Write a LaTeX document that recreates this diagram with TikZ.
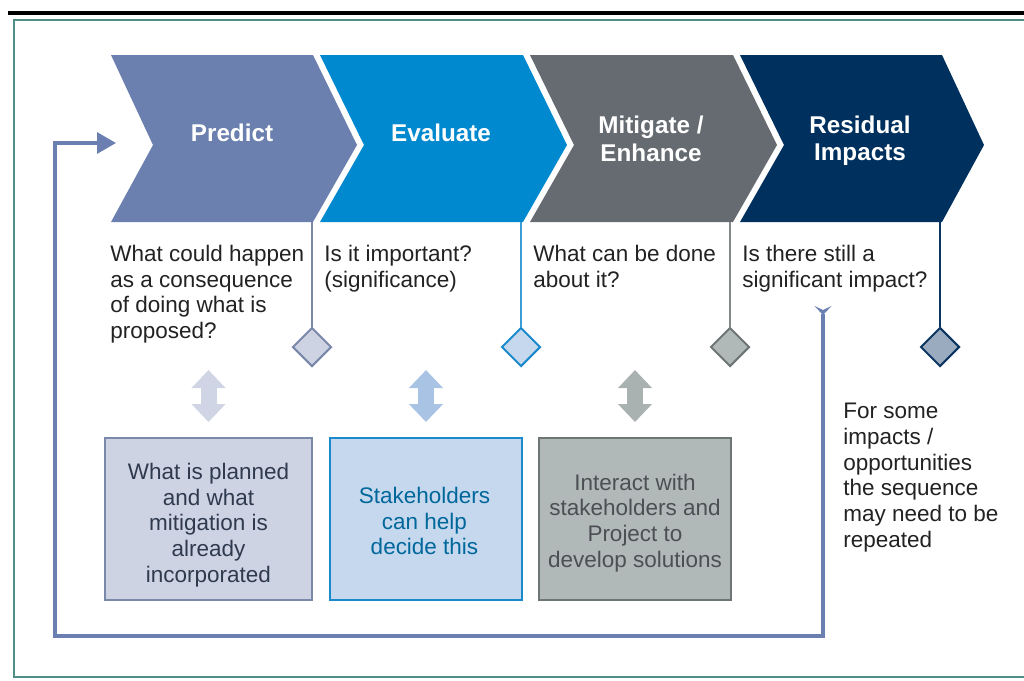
\documentclass[tikz,border=0pt]{standalone}
\usepackage{fontspec}
\setmainfont{Liberation Sans}
\usetikzlibrary{arrows.meta,shapes.geometric}

\definecolor{predictc}{HTML}{6B80AE}
\definecolor{evalc}{HTML}{0089CF}
\definecolor{mitic}{HTML}{656B70}
\definecolor{residc}{HTML}{00305E}
\definecolor{loopc}{HTML}{6B80B0}
\definecolor{framec}{HTML}{4F8F88}
\definecolor{qgray}{HTML}{222222}
% light tints
\definecolor{predictl}{HTML}{CDD3E3}
\definecolor{predictd}{HTML}{7A88AA}
\definecolor{evall}{HTML}{C5D8EE}
\definecolor{evald}{HTML}{1A8ACB}
\definecolor{mitil}{HTML}{B1B8B8}
\definecolor{mitid}{HTML}{6E7575}
\definecolor{residl}{HTML}{9AABBF}
\definecolor{residd}{HTML}{0C3661}
% double arrows
\definecolor{arrp}{HTML}{CFD5E4}
\definecolor{arre}{HTML}{A8C3E4}
\definecolor{arrm}{HTML}{AAB1B1}

\begin{document}
\begin{tikzpicture}[x=0.02cm, y=-0.02cm,
	lbl/.style={text=white, align=center, font=\fontsize{13.8}{15.6}\selectfont\bfseries},
	q/.style={anchor=north west, inner sep=0pt, align=left, text=qgray, font=\fontsize{12.8}{14.6}\selectfont},
	dia/.style={diamond, draw, line width=0.04cm, minimum width=0.78cm, minimum height=0.78cm, inner sep=0pt},
	card/.style={draw, line width=0.04cm, minimum height=3.24cm},
	cardtext/.style={align=center, font=\fontsize{12.8}{14.6}\selectfont},
	dbl/.style={line width=0.32cm, {Triangle[length=0.36cm,width=0.66cm]}-{Triangle[length=0.36cm,width=0.66cm]}},
	stem/.style={line width=0.04cm}]
	\useasboundingbox (0,0) rectangle (1024,680);

	% frame
	\draw[line width=0.08cm] (8,13) -- (1024,13);
	\draw[framec, line width=0.03cm] (1024,20) -- (14,20) -- (14,677) -- (1024,677);

	% chevrons
	\fill[predictc] (111,55) -- (313,55) -- (357,145) -- (313,222) -- (111,222) -- (153,145) -- cycle;
	\fill[evalc]    (320,55) -- (523,55) -- (567,145) -- (523,222) -- (320,222) -- (364,145) -- cycle;
	\fill[mitic]    (530,55) -- (733,55) -- (777,145) -- (733,222) -- (530,222) -- (574,145) -- cycle;
	\fill[residc]   (740,55) -- (942,55) -- (984,145) -- (942,222) -- (740,222) -- (784,145) -- cycle;

	\node [lbl] (predict) at (232,133) {Predict};
	\node [lbl] (evaluate) at (441,133) {Evaluate};
	\node [lbl] (mitigate) at (651,139) {Mitigate /\\Enhance};
	\node [lbl] (residual) at (860,141) {Residual\\Impacts};

	% questions
	\node [q] (q1) at (110,245) {What could happen\\as a consequence\\of doing what is\\proposed?};
	\node [q] (q2) at (324,245) {Is it important?\\(significance)};
	\node [q] (q3) at (533,245) {What can be done\\about it?};
	\node [q] (q4) at (742,245) {Is there still a\\significant impact?};
	\node [q] (note) at (843,403) {For some\\impacts /\\opportunities\\the sequence\\may need to be\\repeated};

	% stems and diamonds
	\coordinate (s1) at (312,222);
	\coordinate (s2) at (521,222);
	\coordinate (s3) at (730,222);
	\coordinate (s4) at (940,222);
	\node [dia, draw=predictd, fill=predictl] (d1) at (312,347) {};
	\node [dia, draw=evald, fill=evall] (d2) at (521,347) {};
	\node [dia, draw=mitid, fill=mitil] (d3) at (730,347) {};
	\node [dia, draw=residd, fill=residl] (d4) at (940,347) {};
	\draw[stem, predictd] (s1) -- (d1.north);
	\draw[stem, evald!85] (s2) -- (d2.north);
	\draw[stem, mitid!85] (s3) -- (d3.north);
	\draw[stem, residd] (s4) -- (d4.north);

	% boxes
	\node [card, minimum width=4.14cm, draw=predictd, fill=predictl] (b1) at (208.5,519) {};
	\node [card, minimum width=3.84cm, draw=evald, fill=evall] (b2) at (426,519) {};
	\node [card, minimum width=3.84cm, draw=mitid, fill=mitil] (b3) at (635,519) {};
	\node [cardtext, text=predictc!45!black] (t1) at (208.5,525) {What is planned\\and what\\mitigation is\\already\\incorporated};
	\node [cardtext, text=evalc!75!black] (t2) at (424.5,521) {Stakeholders\\can help\\decide this};
	\node [cardtext, text=mitic!75!black] (t3) at (635,523) {Interact with\\stakeholders and\\Project to\\develop solutions};

	\draw[dbl, arrp] ([yshift=0.3cm]b1.north) -- ([yshift=1.34cm]b1.north);
	\draw[dbl, arre] ([yshift=0.3cm]b2.north) -- ([yshift=1.34cm]b2.north);
	\draw[dbl, arrm] ([yshift=0.3cm]b3.north) -- ([yshift=1.34cm]b3.north);

	% loop back
	\coordinate (back) at (823,306);
	\coordinate (pin) at (116,143);
	\draw[loopc, line width=0.065cm, {Stealth[reversed,length=0.18cm,width=0.34cm,inset=0.08cm]}-{Triangle[length=0.38cm,width=0.42cm]}]
		(back) -- (823,636) -| (55,143) -- (pin);
\end{tikzpicture}
\end{document}
